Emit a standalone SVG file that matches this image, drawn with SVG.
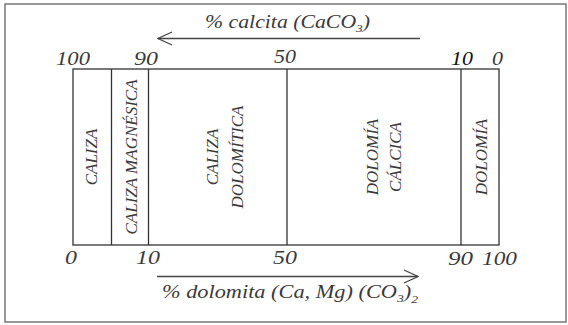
<svg xmlns="http://www.w3.org/2000/svg" width="568" height="325" viewBox="0 0 568 325">
<style>
.t{font-family:"Liberation Serif",serif;font-style:italic;fill:#3a3a3a}
.lbl{font-size:17px}
.num{font-size:18px}
.ttl{font-size:18px}
.box{fill:none;stroke:#333;stroke-width:1.3}
.div{stroke:#333;stroke-width:1.3}
.arr{stroke:#444;stroke-width:1.3;fill:none}
</style>
<defs>
<marker id="head" viewBox="0 0 16 16" refX="15" refY="8" markerWidth="16" markerHeight="16" markerUnits="userSpaceOnUse" orient="auto">
<path d="M1,1.5 L15,8 L1,14.5" fill="none" stroke="#444" stroke-width="1.3"/>
</marker>
</defs>
<rect x="0" y="0" width="568" height="325" fill="#fff"/>
<rect x="5" y="4" width="561" height="318" fill="none" stroke="#777" stroke-width="1.5"/>

<g id="diagram-box">
<rect class="box" x="73" y="69" width="426" height="176"/>
<line class="div" x1="111.5" y1="69" x2="111.5" y2="245"/>
<line class="div" x1="148.5" y1="69" x2="148.5" y2="245"/>
<line class="div" x1="287" y1="69" x2="287" y2="245"/>
<line class="div" x1="461" y1="69" x2="461" y2="245"/>
</g>

<g id="caliza">
<text class="t lbl" text-anchor="middle" transform="translate(97,157) rotate(-90)">CALIZA</text>
</g>
<g id="caliza-magnesica">
<text class="t lbl" text-anchor="middle" transform="translate(137,157) rotate(-90)">CALIZA MAGNÉSICA</text>
</g>
<g id="caliza-dolomitica">
<text class="t lbl" text-anchor="middle" transform="translate(218,157) rotate(-90)">CALIZA</text>
<text class="t lbl" text-anchor="middle" transform="translate(243,157) rotate(-90)">DOLOMÍTICA</text>
</g>
<g id="dolomia-calcica">
<text class="t lbl" text-anchor="middle" transform="translate(378,157) rotate(-90)">DOLOMÍA</text>
<text class="t lbl" text-anchor="middle" transform="translate(401,157) rotate(-90)">CÁLCICA</text>
</g>
<g id="dolomia">
<text class="t lbl" text-anchor="middle" transform="translate(487,157) rotate(-90)">DOLOMÍA</text>
</g>

<g id="top-scale">
<text class="t num" x="56" y="65" textLength="34" lengthAdjust="spacingAndGlyphs">100</text>
<text class="t num" x="134" y="65" textLength="24" lengthAdjust="spacingAndGlyphs">90</text>
<text class="t num" x="274" y="63" textLength="22" lengthAdjust="spacingAndGlyphs">50</text>
<text class="t num" x="451" y="65" textLength="22" lengthAdjust="spacingAndGlyphs" style="fill:#111">10</text>
<text class="t num" x="492" y="65" textLength="11" lengthAdjust="spacingAndGlyphs">0</text>
</g>
<g id="bottom-scale">
<text class="t num" x="65" y="264" textLength="12" lengthAdjust="spacingAndGlyphs">0</text>
<text class="t num" x="136" y="264" textLength="24" lengthAdjust="spacingAndGlyphs">10</text>
<text class="t num" x="273" y="264" textLength="24" lengthAdjust="spacingAndGlyphs">50</text>
<text class="t num" x="448" y="265" textLength="25" lengthAdjust="spacingAndGlyphs">90</text>
<text class="t num" x="482" y="265" textLength="35" lengthAdjust="spacingAndGlyphs">100</text>
</g>

<g id="connectors">
<line class="arr" x1="420" y1="38.5" x2="158" y2="38.5" marker-end="url(#head)"/>
<line class="arr" x1="157" y1="276.5" x2="418" y2="276.5" marker-end="url(#head)"/>
</g>

<g id="titles">
<text class="t ttl" x="205" y="28" textLength="165" lengthAdjust="spacingAndGlyphs">% calcita (CaCO<tspan font-size="11" dy="4">3</tspan><tspan dy="-4">)</tspan></text>
<text class="t ttl" x="162" y="298" textLength="256" lengthAdjust="spacingAndGlyphs">% dolomita (Ca, Mg) (CO<tspan font-size="11" dy="4">3</tspan><tspan dy="-4">)</tspan><tspan font-size="11" dy="5">2</tspan></text>
</g>
</svg>
